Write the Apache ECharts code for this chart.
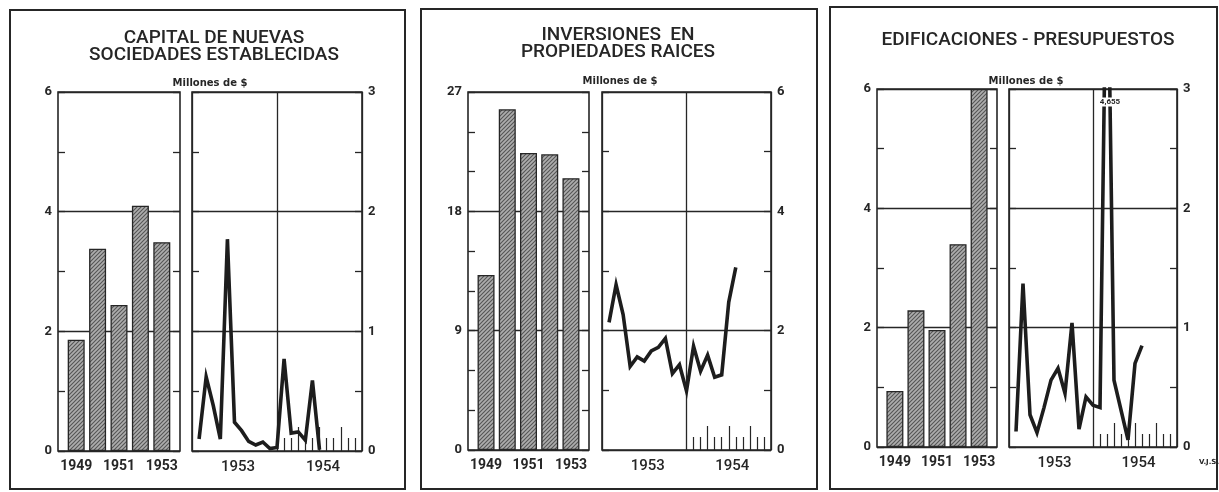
<!DOCTYPE html>
<html><head><meta charset="utf-8">
<script src="https://cdn.jsdelivr.net/npm/echarts@6/dist/echarts.min.js"></script>
<style>html,body{margin:0;padding:0;background:#fff}#c{width:1219px;height:492px}</style>
</head><body><div id="c"></div>
<script>
// ---------------- DATA ----------------
const barYears = [1949, 1950, 1951, 1952, 1953];
const barLabelYears = [1949, 1951, 1953];
const capitalAnual = [1.86, 3.38, 2.44, 4.10, 3.49];
const inversionesAnual = [13.2, 25.7, 22.4, 22.3, 20.5];
const edificacionesAnual = [0.94, 2.29, 1.96, 3.40, 6.0];

const monthYears = ['1953', '1954'];
const monthIndex = [1, 2, 3, 4, 5, 6, 7, 8, 9, 10, 11, 12, 13, 14, 15, 16, 17, 18, 19];
const capitalMensual = [0.10, 0.62, 0.38, 0.10, 1.77, 0.24, 0.17, 0.08, 0.05, 0.075, 0.02, 0.03, 0.77, 0.15, 0.16, 0.09, 0.59, 0.01];
const inversionesMensual = [2.14, 2.77, 2.27, 1.40, 1.56, 1.49, 1.66, 1.72, 1.87, 1.28, 1.43, 0.99, 1.74, 1.32, 1.59, 1.22, 1.26, 2.48, 3.06];
const edificacionesMensual = [0.13, 1.37, 0.27, 0.12, 0.33, 0.56, 0.66, 0.45, 1.04, 0.15, 0.42, 0.35, 0.33, 4.655, 0.56, 0.31, 0.06, 0.70, 0.85];

const titles = [['CAPITAL DE NUEVAS', 'SOCIEDADES ESTABLECIDAS'], ['INVERSIONES  EN', 'PROPIEDADES RAICES'], ['EDIFICACIONES - PRESUPUESTOS']];
const unitLabel = 'Millones de $';
const signature = 'V.J.S.';

const barAxisMax = [6, 27, 6];
const barAxisStep = [2, 9, 2];
const barMinorStep = [1, 3, 1];
const lineAxisMax = [3, 6, 3];
const lineAxisStep = [1, 2, 1];
const lineMinorStep = [0.5, 1, 0.5];
const monthTicksShort = [13, 14, 16, 17, 19, 20, 22, 23];
const monthTicksLong = [15, 18, 21];
const yearLabelPos = [6.5, 18.5];

// ---------------- LAYOUT / STYLE ----------------
const ink = '#262626';
const panels = [
  { box: [10, 10, 405, 489], bar: { l: 58, t: 92, w: 122, h: 359 }, line: { l: 192, t: 92, w: 170, h: 359 }, tx: 214, ty: [38, 55], ux: 210, uy: 83 },
  { box: [421, 9, 817, 489], bar: { l: 468, t: 92, w: 121, h: 358 }, line: { l: 602, t: 92, w: 169, h: 358 }, tx: 618, ty: [35.5, 52.5], ux: 620, uy: 81 },
  { box: [830, 7, 1217, 489], bar: { l: 877, t: 89, w: 120, h: 358 }, line: { l: 1009, t: 89, w: 168, h: 358 }, tx: 1028, ty: [40], ux: 1026, uy: 81.5 }
];
const annual = [capitalAnual, inversionesAnual, edificacionesAnual];
const monthly = [capitalMensual, inversionesMensual, edificacionesMensual];

// hatch pattern
const hc = document.createElement('canvas'); hc.width = 4; hc.height = 4;
const hx = hc.getContext('2d');
hx.fillStyle = '#adadad'; hx.fillRect(0, 0, 4, 4);
hx.strokeStyle = '#555555'; hx.lineWidth = 1.1;
hx.beginPath(); hx.moveTo(-1, 5); hx.lineTo(5, -1); hx.moveTo(3, 5); hx.lineTo(5, 3); hx.moveTo(-1, 1); hx.lineTo(1, -1); hx.stroke();

const grids = [], xAxes = [], yAxes = [], series = [], graphics = [];
const numFont = 'Roboto, "DejaVu Sans", sans-serif';

function addGrid(r) {
  grids.push({ left: r.l, top: r.t, width: r.w, height: r.h, show: true, borderColor: ink, borderWidth: 1.6,
    backgroundColor: 'rgba(0,0,0,0)', containLabel: false, outerBoundsMode: 'none' });
  return grids.length - 1;
}
function addYAxes(gi, side, max, step, minor) {
  const other = side === 'left' ? 'right' : 'left';
  yAxes.push({ gridIndex: gi, type: 'value', position: side, min: 0, max: max, interval: step,
    axisLine: { show: false, onZero: false }, axisTick: { show: false },
    splitLine: { show: true, lineStyle: { color: ink, width: 1.3 } },
    axisLabel: { show: true, margin: 6, color: ink, fontSize: 13, fontWeight: 'bold', fontFamily: numFont } });
  const a = yAxes.length - 1;
  [side, other].forEach(s => yAxes.push({ gridIndex: gi, type: 'value', position: s, min: 0, max: max, interval: minor,
    axisLine: { show: false, onZero: false }, axisLabel: { show: false }, splitLine: { show: false },
    axisTick: { show: true, inside: true, length: 7, lineStyle: { color: ink, width: 1.3 } } }));
  return a;
}
function tickAxis(gi, values, len) {
  xAxes.push({ gridIndex: gi, type: 'value', position: 'bottom', min: 0, max: 24,
    axisLine: { show: false, onZero: false }, axisLabel: { show: false }, splitLine: { show: false },
    axisTick: { show: true, inside: true, length: len, customValues: values, lineStyle: { color: ink, width: 1.2 } } });
}

panels.forEach((p, k) => {
  // ---- bar chart ----
  const gb = addGrid(p.bar);
  xAxes.push({ gridIndex: gb, type: 'value', position: 'bottom', min: 1948.15, max: 1953.85,
    axisLine: { show: false, onZero: false }, axisTick: { show: false }, splitLine: { show: false },
    axisLabel: { show: true, customValues: barLabelYears, formatter: v => String(v), margin: 8, color: ink,
      fontSize: 14, fontWeight: 'bold', fontFamily: numFont } });
  const xb = xAxes.length - 1;
  const yb = addYAxes(gb, 'left', barAxisMax[k], barAxisStep[k], barMinorStep[k]);
  series.push({ type: 'bar', xAxisIndex: xb, yAxisIndex: yb, barWidth: 17, silent: true, animation: false,
    data: barYears.map((y, i) => [y, annual[k][i]]),
    itemStyle: { color: { image: hc, repeat: 'repeat' }, borderColor: ink, borderWidth: 1.3 } });

  // ---- line chart ----
  const gl = addGrid(p.line);
  xAxes.push({ gridIndex: gl, type: 'value', position: 'bottom', min: 0, max: 24, interval: 12,
    axisLine: { show: false, onZero: false }, axisTick: { show: false },
    splitLine: { show: true, lineStyle: { color: ink, width: 1.3 } },
    axisLabel: { show: true, customValues: yearLabelPos, formatter: v => monthYears[Math.floor(v / 12)], margin: 9,
      color: ink, fontSize: 15, fontWeight: 500, fontFamily: numFont } });
  const xl = xAxes.length - 1;
  tickAxis(gl, monthTicksShort, 13);
  tickAxis(gl, monthTicksLong, 24);
  const yl = addYAxes(gl, 'right', lineAxisMax[k], lineAxisStep[k], lineMinorStep[k]);
  const vals = monthly[k];
  const s = { type: 'line', xAxisIndex: xl, yAxisIndex: yl, symbol: 'none', clip: true, silent: true, animation: false,
    data: vals.map((v, i) => [monthIndex[i], v]),
    lineStyle: { color: '#1d1d1d', width: 3.6, join: 'miter', miterLimit: 6 } };
  const peak = Math.max(...vals);
  if (peak > lineAxisMax[k]) {
    const pm = monthIndex[vals.indexOf(peak)];
    const txt = peak.toFixed(3).replace('.', ',');
    s.markPoint = { symbol: 'circle', symbolSize: 0, silent: true, animation: false,
      data: [{ coord: [pm, lineAxisMax[k]], value: txt }],
      label: { show: true, position: 'inside', offset: [3, 13], formatter: txt, color: ink, fontSize: 8, fontWeight: 'bold',
        fontFamily: numFont, backgroundColor: '#fff', padding: [1, 1, 0, 1] } };
  }
  series.push(s);

  // ---- decorations ----
  graphics.push({ type: 'rect', shape: { x: p.box[0], y: p.box[1], width: p.box[2] - p.box[0], height: p.box[3] - p.box[1] },
    style: { fill: 'none', stroke: ink, lineWidth: 2 }, silent: true });
  titles[k].forEach((t, j) => graphics.push({ type: 'text', x: p.tx, y: p.ty[j], silent: true,
    style: { text: t, fill: ink, font: '500 19px Roboto, sans-serif', textAlign: 'center', textVerticalAlign: 'middle' } }));
  graphics.push({ type: 'text', x: p.ux, y: p.uy, silent: true,
    style: { text: unitLabel, fill: ink, font: 'bold 10px "DejaVu Sans", sans-serif', textAlign: 'center', textVerticalAlign: 'middle' } });
});
graphics.push({ type: 'text', x: 1209, y: 462, silent: true,
  style: { text: signature, fill: ink, font: 'bold 7px "DejaVu Sans", sans-serif', textAlign: 'center', textVerticalAlign: 'middle' } });

const chart = echarts.init(document.getElementById('c'), null, { renderer: 'canvas' });
chart.setOption({
  backgroundColor: '#ffffff',
  animation: false,
  grid: grids, xAxis: xAxes, yAxis: yAxes, series: series,
  graphic: { elements: graphics }
});
</script></body></html>
